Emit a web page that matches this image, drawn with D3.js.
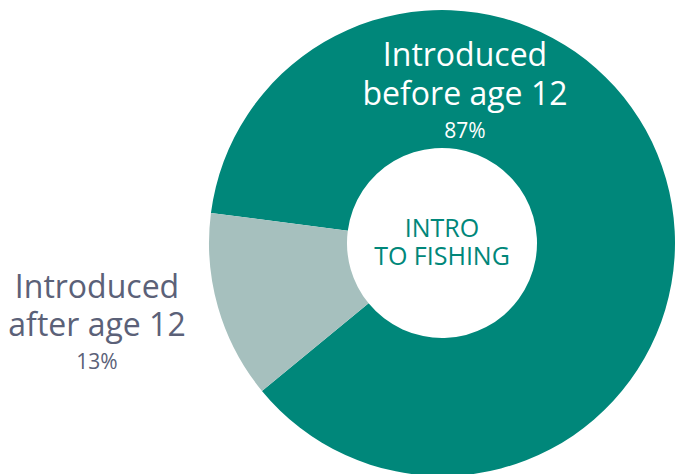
<!DOCTYPE html>
<html><head><meta charset="utf-8">
<script src="https://cdn.jsdelivr.net/npm/d3@7"></script>
<style>html,body{margin:0;padding:0;background:#fff;} svg{display:block;}</style>
</head><body>
<svg id="chart" width="675" height="474"></svg>
<script>
const categories = ["Introduced before age 12", "Introduced after age 12"];
const values = [87, 13];
const percentLabels = ["87%", "13%"];
const colors = ["#00877A", "#A6C0BE"];
const centerTitle = ["INTRO", "TO FISHING"];

const svg = d3.select("#chart");
const cx = 442, cy = 243, R = 233, r = 95;
const g = svg.append("g").attr("transform", `translate(${cx},${cy})`);

const start = -82.6 * Math.PI / 180;
const pie = d3.pie().sort(null).value(d => d).startAngle(start).endAngle(start + 2 * Math.PI);
const arc = d3.arc().innerRadius(r).outerRadius(R);
g.selectAll("path").data(pie(values)).join("path")
  .attr("d", arc).attr("fill", (d, i) => colors[i]);

const font = "'Open Sans', Lato, sans-serif";
const topLabel = svg.append("text").attr("font-family", font).attr("text-anchor", "middle").attr("fill", "#ffffff");
topLabel.append("tspan").attr("x", 465).attr("y", 66).attr("font-size", 32).text("Introduced");
topLabel.append("tspan").attr("x", 465).attr("y", 105).attr("font-size", 32).text("before age 12");
topLabel.append("tspan").attr("x", 465).attr("y", 138).attr("font-size", 21).text(percentLabels[0]);

const leftLabel = svg.append("text").attr("font-family", font).attr("text-anchor", "middle").attr("fill", "#5B6178");
leftLabel.append("tspan").attr("x", 97).attr("y", 298).attr("font-size", 32).text("Introduced");
leftLabel.append("tspan").attr("x", 97).attr("y", 336).attr("font-size", 32).text("after age 12");
leftLabel.append("tspan").attr("x", 97).attr("y", 369).attr("font-size", 21).text(percentLabels[1]);

const ctr = svg.append("text").attr("font-family", font).attr("text-anchor", "middle").attr("fill", "#00877A").attr("font-size", 25);
ctr.selectAll("tspan").data(centerTitle).join("tspan")
  .attr("x", cx).attr("y", (d, i) => 237 + i * 28).text(d => d);
</script>
</body></html>
